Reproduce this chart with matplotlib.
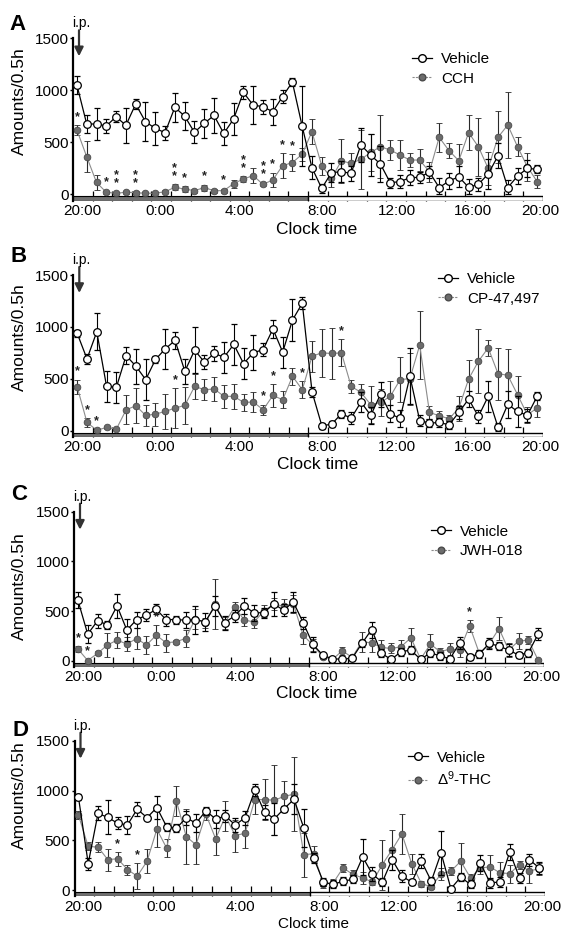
import matplotlib
matplotlib.use('Agg')
import matplotlib.pyplot as plt
from matplotlib.patches import Rectangle
from matplotlib.lines import Line2D
import numpy as np

plt.rcParams['font.family'] = ['Liberation Sans', 'DejaVu Sans']
plt.rcParams['mathtext.fontset'] = 'custom'
plt.rcParams['mathtext.rm'] = 'Liberation Sans'
plt.rcParams['mathtext.it'] = 'Liberation Sans:italic'

W, H = 569, 930
fig = plt.figure(figsize=(W / 100, H / 100), dpi=100)

# ---------------- data ----------------
hours = np.arange(48) * 0.5 + 0.2          # hours after 20:00 (half-hour bins)
tick_hours = [0, 4, 8, 12, 16, 20, 24]
tick_labels = ['20:00', '0:00', '4:00', '8:00', '12:00', '16:00', '20:00']
yticks = [0, 500, 1000, 1500]

A_veh = [1051, 677, 677, 658, 747, 664, 868, 699, 635, 594, 837, 753, 597, 683, 759, 586, 725, 980, 859, 843, 795, 940, 1080, 658,
         258, 59, 210, 219, 203, 476, 379, 292, 113, 124, 161, 165, 215, 66, 130, 170, 69, 98, 197, 370, 66, 177, 251, 242]
A_veh_err = [85, 85, 157, 63, 53, 170, 47, 190, 157, 66, 138, 135, 107, 141, 167, 110, 157, 60, 180, 69, 126, 60, 40, 380,
             110, 40, 90, 100, 70, 160, 200, 170, 50, 60, 70, 50, 60, 90, 80, 100, 80, 60, 140, 120, 70, 80, 80, 40]
A_drug = [619, 363, 116, 21, 12, 21, 18, 12, 12, 27, 69, 52, 37, 66, 37, 37, 104, 149, 181, 98, 139, 277, 306, 386,
          603, 277, 155, 322, 300, 337, 404, 459, 427, 379, 331, 331, 219, 549, 421, 325, 594, 459, 251, 549, 667, 459, 267, 124]
A_drug_err = [50, 150, 70, 15, 15, 15, 15, 12, 12, 15, 30, 30, 20, 30, 20, 20, 40, 30, 70, 20, 70, 120, 85, 60,
              120, 85, 80, 210, 100, 280, 180, 300, 95, 140, 70, 110, 95, 140, 75, 160, 170, 280, 155, 250, 320, 90, 135, 60]
A_stars = {0: 1, 3: 1, 4: 2, 6: 2, 10: 2, 11: 1, 13: 1, 15: 1, 17: 2, 19: 2, 20: 1, 21: 1, 22: 1}

B_veh = [937, 692, 953, 427, 418, 724, 621, 492, 686, 789, 869, 573, 776, 660, 744, 708, 831, 647, 750, 782, 980, 757, 1066, 1228,
         373, 47, 63, 163, 121, 276, 147, 353, 163, 118, 524, 98, 73, 79, 57, 176, 305, 137, 331, 34, 253, 186, 147, 331]
B_veh_err = [30, 50, 180, 150, 150, 80, 170, 200, 30, 190, 80, 120, 220, 70, 70, 150, 200, 150, 170, 60, 90, 150, 200, 60,
             50, 30, 30, 40, 60, 100, 80, 120, 80, 80, 270, 50, 40, 40, 40, 60, 80, 60, 150, 40, 130, 150, 60, 40]
B_drug = [421, 79, 5, 31, 15, 202, 240, 147, 160, 186, 218, 244, 427, 395, 402, 331, 331, 273, 276, 202, 340, 298, 524, 395,
          718, 750, 744, 750, 427, 369, 250, 273, 331, 492, 502, 824, 176, 144, 115, 218, 498, 669, 798, 550, 534, 347, 153, 218]
B_drug_err = [70, 40, 10, 10, 10, 140, 170, 100, 110, 170, 190, 180, 120, 100, 120, 110, 120, 80, 100, 50, 110, 80, 80, 80,
              150, 230, 250, 130, 60, 80, 180, 130, 150, 220, 250, 330, 60, 50, 40, 120, 180, 310, 80, 250, 250, 180, 80, 90]
B_stars = {0: 1, 1: 1, 2: 1, 10: 1, 19: 1, 20: 1, 23: 1, 27: 1}

C_veh = [610, 270, 403, 366, 553, 310, 416, 460, 520, 416, 416, 410, 416, 393, 553, 386, 453, 553, 483, 486, 575, 510, 593, 386,
         166, 60, 20, 20, 26, 176, 316, 76, 16, 93, 110, 16, 83, 50, 23, 183, 43, 70, 176, 150, 110, 60, 83, 270]
C_veh_err = [80, 90, 70, 40, 120, 110, 80, 60, 50, 60, 40, 80, 140, 90, 100, 70, 60, 80, 80, 50, 120, 60, 100, 60,
             80, 20, 10, 10, 10, 40, 80, 40, 10, 40, 40, 10, 40, 40, 20, 60, 30, 40, 60, 40, 60, 30, 40, 60]
C_drug = [120, 5, 76, 160, 210, 170, 226, 160, 260, 183, 193, 226, 426, 383, 570, 383, 543, 410, 393, 503, 570, 553, 576, 260,
          160, 43, 16, 103, 36, 193, 183, 136, 126, 143, 233, 20, 170, 93, 120, 110, 353, 76, 170, 326, 110, 200, 210, 10]
C_drug_err = [30, 10, 20, 120, 80, 70, 110, 90, 100, 90, 20, 90, 100, 50, 250, 60, 50, 60, 60, 60, 60, 70, 90, 90,
              60, 20, 10, 40, 10, 100, 90, 70, 50, 70, 100, 10, 100, 40, 60, 70, 60, 30, 40, 120, 70, 80, 40, 10]
C_stars = {0: 1, 1: 1, 8: 1, 40: 1}

D_veh = [936, 268, 771, 731, 672, 655, 814, 728, 830, 638, 622, 728, 672, 797, 715, 744, 655, 728, 1002, 781, 718, 820, 913, 622,
         324, 82, 59, 92, 109, 334, 159, 82, 308, 142, 82, 291, 92, 374, 16, 132, 59, 274, 76, 82, 384, 125, 308, 225]
D_veh_err = [30, 60, 70, 170, 60, 90, 70, 20, 120, 40, 40, 70, 90, 40, 90, 60, 70, 70, 60, 70, 160, 30, 150, 190,
             50, 40, 40, 40, 40, 180, 70, 40, 100, 60, 30, 70, 40, 220, 20, 40, 40, 80, 50, 50, 80, 50, 60, 60]
D_drug = [754, 440, 433, 307, 317, 208, 142, 291, 612, 423, 893, 539, 456, 764, 516, 744, 549, 572, 910, 910, 903, 943, 963, 357,
          367, 59, 76, 225, 159, 125, 82, 258, 407, 566, 268, 66, 36, 165, 192, 291, 125, 225, 235, 175, 168, 258, 192, 218]
D_drug_err = [40, 40, 50, 110, 70, 50, 130, 120, 180, 90, 150, 280, 190, 60, 160, 150, 160, 150, 140, 210, 350, 150, 370, 220,
              80, 40, 40, 40, 40, 60, 30, 250, 200, 200, 100, 30, 20, 60, 40, 180, 40, 60, 120, 110, 90, 40, 120, 60]
D_stars = {4: 1, 6: 1}

panels = [
    dict(letter='A', drug='CCH', veh=A_veh, veh_err=A_veh_err, d=A_drug, d_err=A_drug_err, stars=A_stars,
         x0=73, x1=543, ytop=38.3, yzero=194.5, letter_xy=(18, 25), ylab_y=101, xlab=(317, 229, 12.5),
         leg=(412, 69)),
    dict(letter='B', drug='CP-47,497', veh=B_veh, veh_err=B_veh_err, d=B_drug, d_err=B_drug_err, stars=B_stars,
         x0=73.3, x1=543, ytop=275, yzero=430.7, letter_xy=(19, 257), ylab_y=337, xlab=(318, 464, 12.5),
         leg=(438, 289)),
    dict(letter='C', drug='JWH-018', veh=C_veh, veh_err=C_veh_err, d=C_drug, d_err=C_drug_err, stars=C_stars,
         x0=74, x1=544, ytop=511.7, yzero=661, letter_xy=(19, 494), ylab_y=586, xlab=(317, 693, 12.5),
         leg=(431, 541.5)),
    dict(letter='D', drug='Δ$^{9}$-THC', veh=D_veh, veh_err=D_veh_err, d=D_drug, d_err=D_drug_err, stars=D_stars,
         x0=74.5, x1=545, ytop=740.7, yzero=890.3, letter_xy=(20, 730), ylab_y=795, xlab=(313, 924, 11),
         leg=(408, 769.5)),
]

YMIN = -60
lab_offsets = [0.46, 0.44, 0.48, 0.72, 0.55, 0.43, -0.15]
DRUG_FACE = '#6c6c6c'

for p in panels:
    ybot = p['yzero'] + (-YMIN) * (p['yzero'] - p['ytop']) / 1500.0
    ax = fig.add_axes([p['x0'] / W, 1 - ybot / H, (p['x1'] - p['x0']) / W, (ybot - p['ytop']) / H])
    ax.set_xlim(0, 24)
    ax.set_ylim(YMIN, 1500)

    veh = np.array(p['veh'], float); ve = np.array(p['veh_err'], float)
    d = np.array(p['d'], float); de = np.array(p['d_err'], float)

    # dark (20:00-8:00) / light (8:00-20:00) bar
    ax.add_patch(Rectangle((0, YMIN), 12, -YMIN - 18, facecolor='#707070', edgecolor='black', lw=0.8, zorder=2))
    ax.add_patch(Rectangle((12, YMIN), 12, -YMIN - 18, facecolor='white', edgecolor='black', lw=1.0, zorder=2))

    ax.errorbar(hours, d, yerr=[np.minimum(de, d), de], fmt='-o', color='#8c8c8c', lw=0.8,
                mfc=DRUG_FACE, mec='#4a4a4a', mew=0.6, ms=4.8, ecolor='#2a2a2a', elinewidth=0.8,
                capsize=2.4, capthick=0.8, zorder=4, clip_on=False)
    ax.errorbar(hours, veh, yerr=[np.minimum(ve, veh), ve], fmt='-o', color='black', lw=0.9,
                mfc='white', mec='black', mew=0.9, ms=5.5, ecolor='black', elinewidth=0.8,
                capsize=2.4, capthick=0.8, zorder=5, clip_on=False)

    for i, n in p['stars'].items():
        ax.text(hours[i], d[i] + de[i] + 20, '\n'.join(['*'] * n), ha='center', va='bottom', fontsize=9,
                fontweight='bold', color='#222222', linespacing=0.55, zorder=6)

    for s in ['top', 'right', 'bottom']:
        ax.spines[s].set_visible(False)
    ax.spines['left'].set_linewidth(1.6)
    ax.spines['left'].set_bounds(YMIN, 1500)

    ax.set_yticks(yticks)
    ax.set_yticklabels([str(v) for v in yticks])
    ax.tick_params(axis='y', direction='out', length=2.5, width=1.0, labelsize=11, pad=0.5)
    ax.set_xticks([h + o for h, o in zip(tick_hours, lab_offsets)])
    ax.set_xticklabels(tick_labels)
    ax.tick_params(axis='x', which='major', length=0, labelsize=11, pad=2.5)
    ax.set_xticks(np.arange(1, 24), minor=True)
    ax.tick_params(axis='x', which='minor', direction='in', length=7.5, width=0.9)

    # legend
    handles = [Line2D([], [], color='black', lw=0.9, marker='o', mfc='white', mec='black', ms=5.5),
               Line2D([], [], color='#8c8c8c', lw=0.8, ls=(0, (2, 1)), marker='o', mfc=DRUG_FACE, mec='#4a4a4a', ms=4.8)]
    lx, ly = p['leg']
    ax.legend(handles, ['Vehicle', p['drug']], loc='center left', bbox_to_anchor=(lx / W, 1 - ly / H),
              bbox_transform=fig.transFigure, frameon=False, fontsize=11, handlelength=1.3,
              handletextpad=0.6, labelspacing=0.35, borderpad=0, borderaxespad=0)

    # labels
    fx, fy = p['letter_xy']
    fig.text(fx / W, 1 - fy / H, p['letter'], fontsize=16, fontweight='bold', ha='center', va='center')
    fig.text(19 / W, 1 - p['ylab_y'] / H, 'Amounts/0.5h', rotation=90, fontsize=12.5, ha='center', va='center')
    xl, yl, fs = p['xlab']
    fig.text(xl / W, 1 - yl / H, 'Clock time', fontsize=fs, ha='center', va='center')

    # i.p. arrow
    ax_x = p['x0'] + 6
    fig.text((ax_x + 2) / W, 1 - (p['ytop'] - 15) / H, 'i.p.', fontsize=10, ha='center', va='center')
    ax.annotate('', xy=(ax_x, H - (p['ytop'] + 18)), xycoords='figure pixels',
                xytext=(ax_x, H - (p['ytop'] - 8)), textcoords='figure pixels',
                arrowprops=dict(arrowstyle='-|>', color='#333333', lw=1.6, mutation_scale=13, shrinkA=0, shrinkB=0))

fig.savefig('out.png', dpi=100)
